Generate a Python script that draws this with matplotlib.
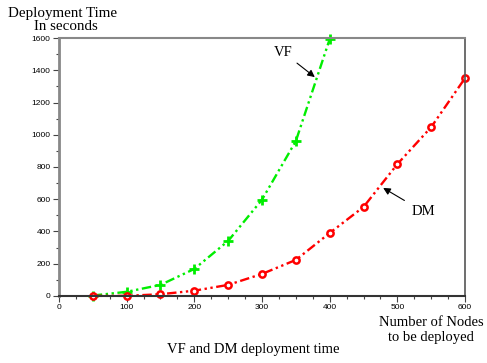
import matplotlib
matplotlib.use("Agg")
import matplotlib.pyplot as plt
from matplotlib.ticker import MultipleLocator

nodos = [50, 100, 150, 200, 250, 300, 350, 400, 450, 500, 550, 600]
tiempo_vf = [2, 25, 68, 167, 341, 597, 961, 1594]
tiempo_dm = [0, 0, 10, 32, 68, 136, 223, 390, 552, 818, 1048, 1352]

serif = "Liberation Serif"
patron = (0, (4, 1.5, 1, 1.5, 1, 1.5))

fig = plt.figure(figsize=(4.87, 3.63), dpi=100)
ax = fig.add_axes([0.121, 0.185, 0.834, 0.710])

ax.plot(nodos[:len(tiempo_vf)], tiempo_vf, color="#00ee00", linestyle=patron, lw=1.7,
        marker="+", markersize=7, markeredgewidth=2, clip_on=False)
ax.plot(nodos, tiempo_dm, color="#ff0000", linestyle=patron, lw=1.7,
        marker="o", markersize=4.5, markerfacecolor="white", markeredgewidth=1.8, clip_on=False)

ax.set_xlim(0, 600)
ax.set_ylim(0, 1600)
ax.xaxis.set_major_locator(MultipleLocator(100))
ax.xaxis.set_minor_locator(MultipleLocator(25))
ax.yaxis.set_major_locator(MultipleLocator(200))
ax.yaxis.set_minor_locator(MultipleLocator(100))
ax.tick_params(which="major", length=4, width=0.8, color="#444444", labelsize=6, pad=2)
ax.tick_params(which="minor", length=2, width=0.8, color="#444444")
for lbl in ax.get_xticklabels() + ax.get_yticklabels():
    lbl.set_fontfamily("Liberation Sans")

ax.spines["left"].set_color("#888888")
ax.spines["left"].set_linewidth(2)
ax.spines["bottom"].set_color("#333333")
ax.spines["bottom"].set_linewidth(1.5)
ax.spines["top"].set_color("#888888")
ax.spines["top"].set_linewidth(1.5)
ax.spines["right"].set_color("#555555")
ax.spines["right"].set_linewidth(1.2)

ax.annotate("VF", xy=(378, 1358), xytext=(331, 1513), fontsize=10.5, family=serif,
            ha="center", va="center",
            arrowprops=dict(arrowstyle="-|>", color="black", lw=0.8, shrinkA=2, shrinkB=0))
ax.annotate("DM", xy=(479, 670), xytext=(539, 521), fontsize=10.5, family=serif,
            ha="center", va="center",
            arrowprops=dict(arrowstyle="-|>", color="black", lw=0.8, shrinkA=4, shrinkB=0))

fig.text(8 / 487, 1 - 13 / 363, "Deployment Time", fontsize=10.8, family=serif, va="center")
fig.text(66 / 487, 1 - 26 / 363, "In seconds", fontsize=10.8, family=serif, va="center", ha="center")
fig.text(484 / 487, 1 - 322 / 363, "Number of Nodes", fontsize=10.5, family=serif, va="center", ha="right")
fig.text(474 / 487, 1 - 338 / 363, "to be deployed", fontsize=10.5, family=serif, va="center", ha="right")
fig.text(253 / 487, 1 - 350 / 363, "VF and DM deployment time", fontsize=10.5, family=serif,
         va="center", ha="center")

plt.savefig("out.png", dpi=100)
